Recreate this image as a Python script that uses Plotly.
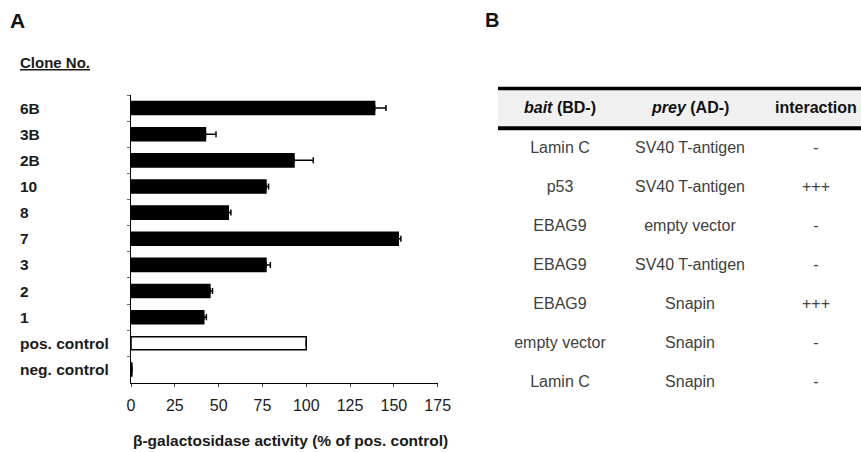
import plotly.graph_objects as go

# ---------------- data ----------------
clones = ["6B", "3B", "2B", "10", "8", "7", "3", "2", "1", "pos. control", "neg. control"]
activity = [139, 42.5, 93, 77, 55.5, 152.5, 77, 45, 41.5, 100, 0.5]
activity_err = [6.5, 6, 11, 1.5, 1.5, 1.5, 2.5, 1.5, 1.5, 0, 0]
x_ticks = [0, 25, 50, 75, 100, 125, 150, 175]

table_header = ["<b><i>bait</i> (BD-)</b>", "<b><i>prey</i> (AD-)</b>", "<b>interaction</b>"]
bait = ["Lamin C", "p53", "EBAG9", "EBAG9", "EBAG9", "empty vector", "Lamin C"]
prey = ["SV40 T-antigen", "SV40 T-antigen", "empty vector", "SV40 T-antigen", "Snapin", "Snapin", "Snapin"]
interaction = ["-", "+++", "-", "-", "+++", "-", "-"]

# ---------------- layout constants ----------------
OFF = 0                      # page body margin removed via post_script
W, H = 861, 452              # figure size
MT, MB = 12, 12
PH = H - MT - MB
FONT = "Liberation Sans, Arial, sans-serif"


def fx(sx):
    """screen x -> paper x"""
    return (sx - OFF) / W


def py(sy):
    """screen y -> paper y"""
    return (H - MB - (sy - OFF)) / PH


ROW0, ROWH = 110, 39.0        # screen y of table row 0, row pitch
TX0, TX1 = 498, 861           # table left / right (screen x)


def tx(sx):
    return (sx - TX0) / (TX1 - TX0)


def ty(sy):
    return (sy - ROW0) / ROWH


col_x = [tx(560), tx(690), tx(816)]

fig = go.Figure()

bar_colors = ["white" if c == "pos. control" else "black" for c in clones]
fig.add_trace(go.Bar(
    x=activity, y=clones, orientation="h",
    marker=dict(color=bar_colors, line=dict(color="black", width=1.5)),
    width=0.5,
    error_x=dict(type="data", symmetric=False, array=activity_err,
                 arrayminus=[0] * len(activity), color="black", thickness=1.5, width=3),
    xaxis="x", yaxis="y", showlegend=False, hoverinfo="skip",
))

# table body text
rows = list(range(1, len(bait) + 1))
for vals, cx in zip([bait, prey, interaction], col_x):
    fig.add_trace(go.Scatter(
        x=[cx] * len(vals), y=rows, mode="text", text=vals,
        textfont=dict(family=FONT, size=16, color="#404040"),
        textposition="middle center", xaxis="x2", yaxis="y2",
        showlegend=False, hoverinfo="skip", cliponaxis=False,
    ))

annotations = []
for h, cx in zip(table_header, col_x):
    annotations.append(dict(text=h, xref="x2", yref="y2", x=cx, y=0, yshift=3,
                            xanchor="center", yanchor="middle", showarrow=False,
                            font=dict(family=FONT, size=16, color="#111")))
for i, c in enumerate(clones):
    annotations.append(dict(text="<b>%s</b>" % c, xref="paper", yref="y", x=fx(18), y=i,
                            xanchor="left", yanchor="middle", showarrow=False,
                            font=dict(family=FONT, size=15.5, color="#1a1a1a")))
annotations += [
    dict(text="<b>A</b>", xref="paper", yref="paper", x=fx(8), y=py(20), xanchor="left",
         yanchor="middle", showarrow=False, font=dict(family=FONT, size=21, color="#111")),
    dict(text="<b>B</b>", xref="paper", yref="paper", x=fx(483), y=py(20), xanchor="left",
         yanchor="middle", showarrow=False, font=dict(family=FONT, size=20, color="#111")),
    dict(text="<b><u>Clone No.</u></b>", xref="paper", yref="paper", x=fx(18), y=py(63),
         xanchor="left", yanchor="middle", showarrow=False,
         font=dict(family=FONT, size=15, color="#1a1a1a")),
    dict(text="<b>β-galactosidase activity (% of pos. control)</b>", xref="x", yref="paper",
         x=0, y=py(441), xanchor="left", yanchor="middle", showarrow=False,
         font=dict(family=FONT, size=15.5, color="#1a1a1a")),
]

shapes = [
    dict(type="rect", xref="x2", yref="y2", x0=0, x1=1, y0=ty(90), y1=ty(126.5),
         fillcolor="#f0f0f0", line=dict(width=0), layer="below"),
    dict(type="line", xref="x2", yref="y2", x0=0, x1=1, y0=ty(88.5), y1=ty(88.5),
         line=dict(color="black", width=3.5)),
    dict(type="line", xref="x2", yref="y2", x0=0, x1=1, y0=ty(128.3), y1=ty(128.3),
         line=dict(color="black", width=4)),
]

top_scr, bot_scr = OFF + MT, OFF + H - MB
fig.update_layout(
    width=W, height=H,
    margin=dict(l=0, r=0, t=MT, b=MB, autoexpand=False),
    paper_bgcolor="white", plot_bgcolor="white",
    font=dict(family=FONT, color="#1a1a1a"),
    xaxis=dict(domain=[fx(131), fx(437.7)], range=[0, 175], tickvals=x_ticks,
               ticks="outside", ticklen=3, tickcolor="#444", showline=True,
               linecolor="black", linewidth=1, showgrid=False, zeroline=False,
               tickfont=dict(size=16, family=FONT, color="#1a1a1a"),
               ticklabelstandoff=5, anchor="y", fixedrange=True),
    yaxis=dict(domain=[py(382.5), py(95)], type="category", categoryarray=clones,
               range=[len(clones) - 0.5, -0.5], showticklabels=False,
               ticks="outside", ticklen=3, tickcolor="#666", tickson="boundaries",
               showline=True, linecolor="black", linewidth=1, showgrid=False,
               zeroline=False, anchor="x", fixedrange=True),
    xaxis2=dict(domain=[fx(TX0), 1], range=[0, 1], visible=False, anchor="y2",
                fixedrange=True),
    yaxis2=dict(domain=[0, 1], range=[ty(bot_scr), ty(top_scr)],
                visible=False, anchor="x2", fixedrange=True),
    annotations=annotations,
    shapes=shapes,
    bargap=0.5,
)

fig.write_html(
    "out.html",
    config={"displayModeBar": False},
    post_script="document.body.style.margin='0px';document.body.style.overflow='hidden';",
)
